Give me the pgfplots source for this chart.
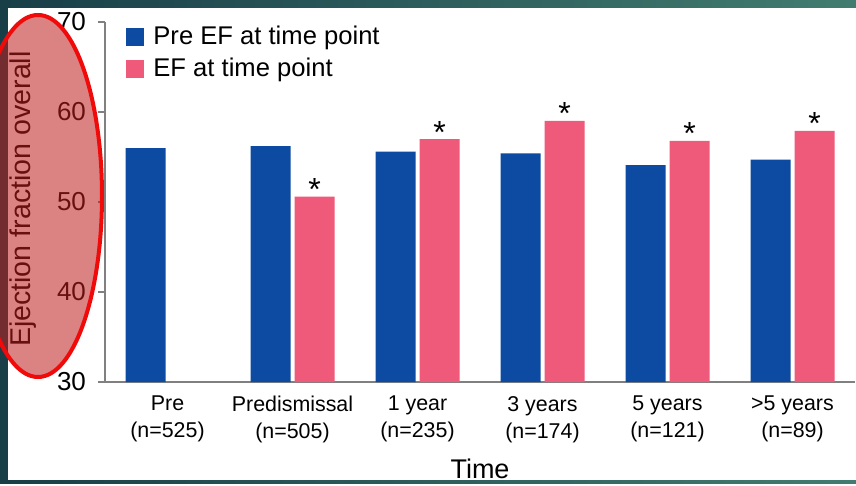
\documentclass[border=0pt]{standalone}
\usepackage{pgfplots}
\pgfplotsset{compat=1.18}
\usepackage{fontspec}
\setmainfont{Liberation Sans}
\definecolor{efblue}{RGB}{13,74,162}
\definecolor{efpink}{RGB}{239,90,122}
\definecolor{slideteal}{RGB}{24,62,72}
\definecolor{slideteal2}{RGB}{66,124,112}
\definecolor{axgray}{RGB}{128,128,128}
\definecolor{ovalfill}{RGB}{190,30,30}
\definecolor{ovaledge}{RGB}{240,10,10}
\begin{document}
\begin{tikzpicture}
\begin{scope}[x=0.5pt,y=-0.5pt]
\useasboundingbox (0,0) rectangle (856,483);
\shade[left color=slideteal, right color=slideteal2] (0,0) rectangle (856,483);
\fill[white] (8,8) rectangle (856,480);
\coordinate (axo) at (105,382);
\end{scope}
\begin{axis}[
  at={(axo)}, anchor=south west,
  scale only axis, width=375pt, height=180pt,
  xmin=-0.5, xmax=5.5, ymin=30, ymax=70,
  axis x line*=bottom, axis y line*=left,
  axis line style={axgray, line width=0.7pt},
  ytick={30,40,50,60,70},
  xtick={0,1,2,3,4,5},
  xticklabels={{Pre\\(n=525)},{Predismissal\\(n=505)},{1 year\\(n=235)},{3 years\\(n=174)},{5 years\\(n=121)},{>5 years\\(n=89)}},
  xticklabel style={align=center, font=\fontsize{10.7}{13.5}\selectfont},
  x tick style={draw=none},
  y tick style={axgray, line width=0.7pt},
  tick align=outside, major tick length=3.5pt,
  yticklabel style={font=\fontsize{13}{15}\selectfont, xshift=-2.5pt},
  /pgf/number format/assume math mode=true,
  ylabel={Ejection fraction overall},
  ylabel style={at={(axis description cs:-0.109,0.508)}, anchor=center, font=\fontsize{14.3}{16}\selectfont},
  xlabel={Time},
  xlabel style={at={(axis description cs:0.5,-0.241)}, anchor=center, font=\fontsize{13.5}{16}\selectfont},
  ybar=2pt, bar width=20pt,
  legend cell align=left,
  legend image code/.code={\fill[#1] (0pt,-4.5pt) rectangle (9pt,4.5pt); \path (11.5pt,0pt);},
  legend style={draw=none, fill=none, inner sep=0pt, at={(axis description cs:0.028,1.0)}, anchor=north west, font=\fontsize{12.8}{15}\selectfont, row sep=1pt},
]
\addplot[fill=efblue, draw=none] coordinates {(0,56.0) (1,56.2) (2,55.6) (3,55.4) (4,54.1) (5,54.7)};
\addlegendentry{Pre EF at time point}
\addplot[fill=efpink, draw=none,
  nodes near coords={*},
  nodes near coords style={font=\fontsize{16}{18}\selectfont, text=black, anchor=base, inner sep=0pt, yshift=-2pt}]
  coordinates {(1,50.6) (2,57.0) (3,59.0) (4,56.8) (5,57.9)};
\addlegendentry{EF at time point}
\end{axis}
\begin{scope}[x=0.5pt,y=-0.5pt]
\clip (0,0) rectangle (856,483);
\draw[ovaledge, line width=2pt, fill=ovalfill, fill opacity=0.55] (38,196) ellipse [x radius=64, y radius=181];
\end{scope}
\end{tikzpicture}
\end{document}
